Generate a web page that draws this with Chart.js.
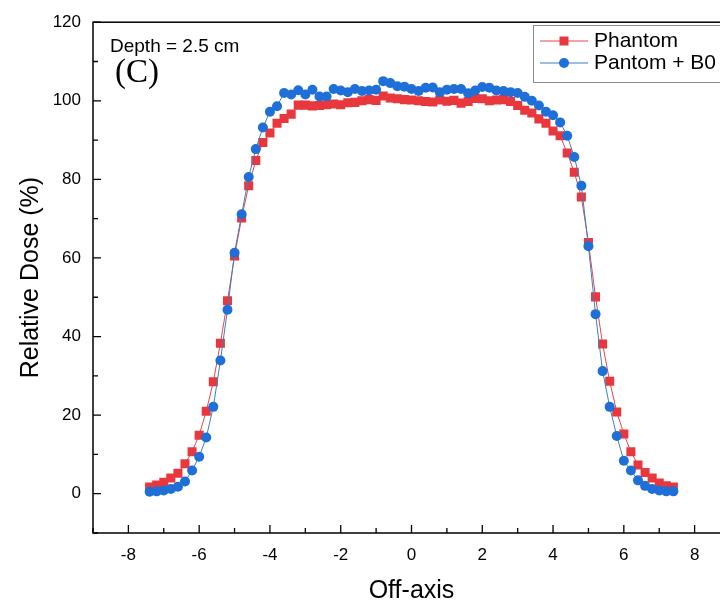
<!DOCTYPE html>
<html lang="en">
<head>
    <meta charset="UTF-8">
    <title>Relative Dose - Depth 2.5 cm</title>
    <script src="https://cdn.jsdelivr.net/npm/chart.js"></script>
    <style>
        html, body { margin: 0; padding: 0; overflow: hidden; background: #fff; }
    </style>
</head>
<body>
    <canvas id="doseChart" width="750" height="606"></canvas>
    <script>
        // off-axis position (cm)
        const offAxis = [-7.4, -7.2, -7.0, -6.8, -6.6, -6.4, -6.2, -6.0, -5.8, -5.6, -5.4, -5.2,
            -5.0, -4.8, -4.6, -4.4, -4.2, -4.0, -3.8, -3.6, -3.4, -3.2, -3.0, -2.8,
            -2.6, -2.4, -2.2, -2.0, -1.8, -1.6, -1.4, -1.2, -1.0, -0.8, -0.6, -0.4, -0.2, 0.0,
            0.2, 0.4, 0.6, 0.8, 1.0, 1.2, 1.4, 1.6, 1.8, 2.0, 2.2, 2.4, 2.6, 2.8,
            3.0, 3.2, 3.4, 3.6, 3.8, 4.0, 4.2, 4.4, 4.6, 4.8, 5.0, 5.2, 5.4, 5.6, 5.8,
            6.0, 6.2, 6.4, 6.6, 6.8, 7.0, 7.2, 7.4];

        // relative dose (%) - Phantom
        const phantom = [1.7, 2.2, 2.9, 4.0, 5.2, 7.6, 10.7, 14.9, 21.0, 28.5, 38.3, 49.1,
            60.5, 70.2, 78.4, 84.8, 89.4, 91.8, 94.3, 95.5, 96.6, 98.9, 98.9, 98.7,
            98.8, 99.0, 99.2, 99.0, 99.5, 99.6, 100.0, 100.3, 100.1, 101.2, 100.7, 100.5, 100.3, 100.2,
            100.0, 99.8, 99.7, 100.2, 99.9, 100.1, 99.4, 99.8, 100.6, 100.5, 100.0, 100.2, 100.3, 99.8,
            98.8, 97.6, 96.9, 95.4, 94.3, 92.3, 91.1, 86.7, 81.8, 75.5, 63.9, 50.1, 38.1, 28.6, 20.8,
            15.2, 10.7, 7.3, 5.4, 4.0, 2.7, 2.0, 1.7];

        // relative dose (%) - Pantom + B0
        const phantomB0 = [0.5, 0.6, 0.8, 1.2, 1.8, 3.1, 5.9, 9.4, 14.3, 22.1, 33.9, 46.8,
            61.3, 71.1, 80.6, 87.7, 93.2, 97.2, 98.6, 102.0, 101.6, 102.7, 101.6, 102.8,
            101.1, 101.1, 103.0, 102.6, 102.2, 103.0, 102.5, 102.6, 102.8, 105.0, 104.5, 103.7, 103.6, 103.0,
            102.5, 103.3, 103.4, 102.2, 102.8, 103.0, 103.0, 101.9, 102.6, 103.5, 103.3, 102.6, 102.5, 102.2,
            102.0, 101.0, 100.0, 98.8, 97.2, 96.3, 94.5, 91.1, 85.7, 78.4, 63.0, 45.7, 31.2, 22.1, 14.7,
            8.4, 5.9, 3.4, 2.0, 1.2, 0.8, 0.6, 0.6];

        // labelled ticks
        const xLabels = [-8, -6, -4, -2, 0, 2, 4, 6, 8];
        const yLabels = [0, 20, 40, 60, 80, 100, 120];

        const FONT = '"Liberation Sans", Arial, sans-serif';

        // frame box, inward tick marks, annotations and legend
        const decorations = {
            id: 'decorations',
            afterDraw(chart) {
                const { ctx, chartArea: a, scales: { x, y } } = chart;
                ctx.save();
                ctx.strokeStyle = '#000';
                ctx.lineWidth = 1.5;
                ctx.strokeRect(a.left, a.top, a.right - a.left, a.bottom - a.top);

                ctx.lineWidth = 1.3;
                ctx.beginPath();
                x.ticks.forEach(t => {
                    const px = x.getPixelForValue(t.value);
                    const len = xLabels.includes(t.value) ? 8 : 5;
                    ctx.moveTo(px, a.bottom);
                    ctx.lineTo(px, a.bottom - len);
                });
                y.ticks.forEach(t => {
                    const py = y.getPixelForValue(t.value);
                    const len = yLabels.includes(t.value) ? 8 : 5;
                    ctx.moveTo(a.left, py);
                    ctx.lineTo(a.left + len, py);
                });
                ctx.stroke();

                // annotations
                ctx.fillStyle = '#000';
                ctx.textBaseline = 'middle';
                ctx.textAlign = 'left';
                ctx.font = '19px ' + FONT;
                ctx.fillText('Depth = 2.5 cm', 110, 47);
                ctx.font = '33px "Liberation Serif", "Times New Roman", serif';
                ctx.fillText('(C)', 115, 73);

                // legend
                const lx = 533, ly = 25;
                ctx.strokeStyle = '#8c8c8c';
                ctx.lineWidth = 1;
                ctx.strokeRect(lx + 0.5, ly + 0.5, 260, 57);
                chart.data.datasets.forEach((ds, i) => {
                    const cy = ly + 16 + i * 22;
                    ctx.strokeStyle = ds.borderColor;
                    ctx.lineWidth = 1.2;
                    ctx.beginPath();
                    ctx.moveTo(lx + 7, cy);
                    ctx.lineTo(lx + 55, cy);
                    ctx.stroke();
                    ctx.fillStyle = ds.pointBackgroundColor;
                    if (ds.pointStyle === 'rect') {
                        ctx.fillRect(lx + 31 - 4.5, cy - 4.5, 9, 9);
                    } else {
                        ctx.beginPath();
                        ctx.arc(lx + 31, cy, 5, 0, Math.PI * 2);
                        ctx.fill();
                    }
                    ctx.fillStyle = '#000';
                    ctx.font = '21px ' + FONT;
                    ctx.fillText(ds.label, lx + 61, cy);
                });
                ctx.restore();
            }
        };

        const ctx = document.getElementById('doseChart').getContext('2d');
        new Chart(ctx, {
            type: 'line',
            data: {
                datasets: [
                    {
                        label: 'Phantom',
                        data: offAxis.map((v, i) => ({ x: v, y: phantom[i] })),
                        borderColor: '#e3474b',
                        borderWidth: 1,
                        pointStyle: 'rect',
                        pointRadius: 6.4,
                        pointBackgroundColor: '#e8383d',
                        pointBorderColor: '#e8383d',
                        pointBorderWidth: 0,
                        tension: 0,
                        order: 1
                    },
                    {
                        label: 'Pantom + B0',
                        data: offAxis.map((v, i) => ({ x: v, y: phantomB0[i] })),
                        borderColor: '#3d7fbf',
                        borderWidth: 1,
                        pointStyle: 'circle',
                        pointRadius: 5,
                        pointBackgroundColor: '#1f6fd8',
                        pointBorderColor: '#1f6fd8',
                        pointBorderWidth: 0,
                        tension: 0,
                        order: 0
                    }
                ]
            },
            options: {
                responsive: false,
                animation: false,
                layout: { padding: { left: 14, top: 19, right: 20, bottom: 0 } },
                plugins: {
                    legend: { display: false },
                    tooltip: { enabled: false }
                },
                scales: {
                    x: {
                        type: 'linear',
                        min: -9,
                        max: 9,
                        grid: { display: false, drawTicks: false },
                        border: { display: false },
                        ticks: {
                            stepSize: 1,
                            autoSkip: false,
                            maxRotation: 0,
                            padding: 12,
                            color: '#000',
                            font: { family: FONT, size: 17 },
                            callback: v => xLabels.includes(v) ? String(v) : ''
                        },
                        title: {
                            display: true,
                            text: 'Off-axis',
                            color: '#000',
                            font: { family: FONT, size: 25 },
                            padding: { top: 0, bottom: 0 }
                        },
                        afterFit(scale) { scale.height = 73; }
                    },
                    y: {
                        min: -10,
                        max: 120,
                        grid: { display: false, drawTicks: false },
                        border: { display: false },
                        ticks: {
                            stepSize: 10,
                            autoSkip: false,
                            padding: 12,
                            color: '#000',
                            font: { family: FONT, size: 17 },
                            callback: v => yLabels.includes(v) ? String(v) : ''
                        },
                        title: {
                            display: true,
                            text: 'Relative Dose (%)',
                            color: '#000',
                            font: { family: FONT, size: 25 },
                            padding: { top: 2, bottom: 0 }
                        },
                        afterFit(scale) { scale.width = 79; }
                    }
                }
            },
            plugins: [decorations]
        });
    </script>
</body>
</html>
